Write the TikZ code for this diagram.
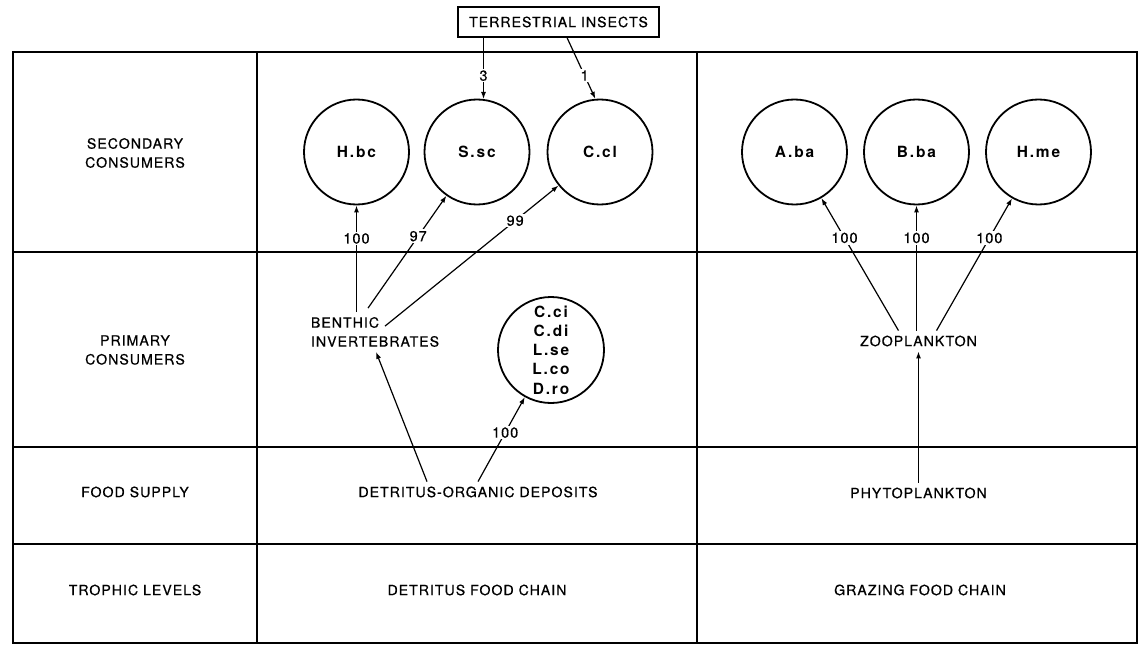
\documentclass[tikz,border=0pt]{standalone}
\usepackage{fontspec}
\setmainfont{TeX Gyre Heros}[LetterSpace=7, FakeBold=0.6]
\newfontfamily\taxonfont{TeX Gyre Heros}[LetterSpace=12]
\usetikzlibrary{arrows.meta,calc}
\begin{document}
\begin{tikzpicture}[x=1bp,y=-1bp,
  grid/.style={line width=1.6bp},
  lbl/.style={font=\fontsize{14.2}{19}\selectfont, align=center, inner sep=2bp},
  taxon/.style={circle, draw, line width=1.8bp, minimum size=105bp, inner sep=0pt,
                font=\taxonfont\bfseries\fontsize{15.5}{19.3}\selectfont, align=center},
  flow/.style={line width=1.2bp, -{Latex[length=7bp,width=5bp]}},
  num/.style={font=\fontsize{14.5}{16}\selectfont, fill=white, inner sep=1.5bp},
]
\useasboundingbox (0,0) rectangle (1143,650);

% table frame
\draw[grid] (13,52) rectangle (1137,643);
\foreach \y in {252,447,544} \draw[grid] (13,\y) -- (1137,\y);
\foreach \x in {257,697} \draw[grid] (\x,52) -- (\x,643);

% row headings
\node[lbl] (hsec)  at (135,153) {SECONDARY\\CONSUMERS};
\node[lbl] (hprim) at (135,350) {PRIMARY\\CONSUMERS};
\node[lbl] (hfood) at (135,492) {FOOD SUPPLY};
\node[lbl] (htro)  at (135,590) {TROPHIC LEVELS};

% bottom row
\node[lbl] (dchain) at (477,590) {DETRITUS FOOD CHAIN};
\node[lbl] (gchain) at (920,590) {GRAZING FOOD CHAIN};

% food supply
\node[lbl, outer sep=3bp] (detritus) at (478,492) {DETRITUS-ORGANIC DEPOSITS};
\node[lbl, outer sep=3bp] (phyto) at (918.5,493) {PHYTOPLANKTON};

% primary consumers
\node[lbl, align=left, anchor=west, outer sep=3bp] (benthic) at (306,332) {BENTHIC\\INVERTEBRATES};
\node[lbl, outer sep=3bp] (zoo) at (918.5,341) {ZOOPLANKTON};
\node[taxon, minimum size=106bp] (fishes) at (551,350) {C.ci\\C.di\\L.se\\L.co\\D.ro};

% secondary consumers
\node[taxon] (hbc) at (356.5,152) {H.bc};
\node[taxon] (ssc) at (477,152) {S.sc};
\node[taxon] (ccl) at (600,152) {C.cl};
\node[taxon] (aba) at (794.5,152) {A.ba};
\node[taxon] (bba) at (916.5,152) {B.ba};
\node[taxon] (hme) at (1038.5,152) {H.me};

% external source
\node[lbl, draw, line width=1.2bp, minimum width=201bp, minimum height=30bp] (terr) at (558.5,22) {TERRESTRIAL INSECTS};

% terrestrial inputs
\draw[flow] (terr.south -| ssc.83) -- node[num, pos=0.62] {3} (ssc.83);
\draw[flow] ([xshift=8.5bp]terr.south) -- node[num, pos=0.62] {1} (ccl.95);

% detritus chain
\draw[flow] (benthic.north -| hbc) -- node[num, pos=0.69] {100} (hbc);
\draw[flow] ($(benthic.north west)+(62,-4)$) -- node[num, pos=0.64] {97} (ssc);
\draw[flow] ($(benthic.north west)+(79,14)$) -- node[num, pos=0.75] {99} (ccl);
\draw[flow] ($(detritus.north)+(-51,0)$) -- ($(benthic.south west)+(70,0)$);
\draw[flow] (detritus.north) -- node[num, pos=0.58] {100} (fishes);

% grazing chain
\draw[flow] (phyto.north) -- (zoo.south);
\draw[flow] ($(zoo.north)+(-20,0)$) -- node[num, pos=0.70] {100} (aba);
\draw[flow] (zoo.north -| bba) -- node[num, pos=0.74] {100} (bba);
\draw[flow] ($(zoo.north)+(18,0)$) -- node[num, pos=0.70] {100} (hme);
\end{tikzpicture}
\end{document}
